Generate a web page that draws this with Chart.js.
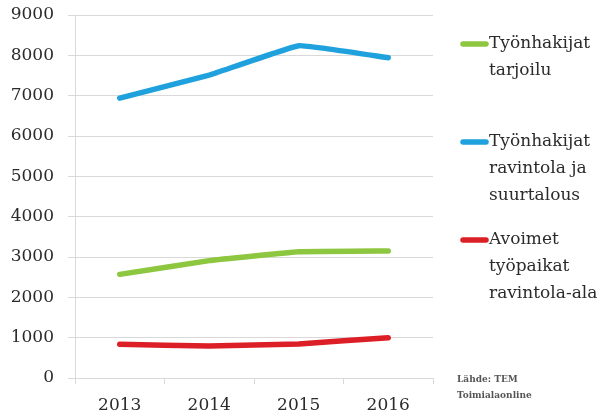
<!DOCTYPE html>
<html>
<head>
<meta charset="utf-8">
<script src="https://cdn.jsdelivr.net/npm/chart.js@4/dist/chart.umd.min.js"></script>
<style>
  html, body { margin: 0; padding: 0; background: #fff; }
  #wrap { width: 606px; height: 415px; position: relative; }
</style>
</head>
<body>
<div id="wrap"><canvas id="chart"></canvas></div>
<script>
// Years and series
const years = ['2013', '2014', '2015', '2016'];
const tarjoilu = [2570, 2910, 3130, 3150];
const ravintolaSuurtalous = [6940, 7510, 8240, 7940];
const avoimetPaikat = [835, 795, 845, 1000];

// Legend text, already wrapped the way it is shown
const tarjoiluLines = ['Työnhakijat', 'tarjoilu'];
const ravintolaLines = ['Työnhakijat', 'ravintola ja', 'suurtalous'];
const avoimetLines = ['Avoimet', 'työpaikat', 'ravintola-ala'];
const sourceLines = ['Lähde: TEM', 'Toimialaonline'];

const FONT = '"DejaVu Serif", "Liberation Serif", serif';
const TEXT = '#2b2b2b';
const GRID = '#d9d9d9';

const colors = {
    green: '#8dc63f',
    blue: '#1ea1dc',
    red: '#dc1f26'
};

function series(label, data, color, lines) {
    return {
        label: label,
        data: data,
        borderColor: color,
        backgroundColor: color,
        borderWidth: 5.5,
        borderCapStyle: 'round',
        borderJoinStyle: 'round',
        pointRadius: 0,
        tension: 0.08,
        legendLines: lines
    };
}

// Side legend with wrapped labels plus the source note
const sideLegend = {
    id: 'sideLegend',
    afterDraw(chart) {
        const ctx = chart.ctx;
        const x0 = 460, top = 44, slot = 98, lineH = 27;
        ctx.save();
        ctx.textBaseline = 'middle';
        ctx.textAlign = 'left';
        chart.data.datasets.forEach((ds, i) => {
            const y = top + i * slot;
            ctx.strokeStyle = ds.borderColor;
            ctx.lineWidth = 5.5;
            ctx.lineCap = 'round';
            ctx.beginPath();
            ctx.moveTo(x0 + 3, y);
            ctx.lineTo(x0 + 26, y);
            ctx.stroke();
            ctx.fillStyle = TEXT;
            ctx.font = '17px ' + FONT;
            ds.legendLines.forEach((t, j) => ctx.fillText(t, x0 + 29, y + j * lineH));
        });
        ctx.font = 'bold 9px ' + FONT;
        ctx.fillStyle = '#555';
        sourceLines.forEach((t, j) => ctx.fillText(t, 457, 380 + j * 16));
        ctx.restore();
    }
};

new Chart(document.getElementById('chart'), {
    type: 'line',
    data: {
        labels: years,
        datasets: [
            series(tarjoiluLines.join(' '), tarjoilu, colors.green, tarjoiluLines),
            series(ravintolaLines.join(' '), ravintolaSuurtalous, colors.blue, ravintolaLines),
            series(avoimetLines.join(' '), avoimetPaikat, colors.red, avoimetLines)
        ]
    },
    options: {
        responsive: true,
        maintainAspectRatio: false,
        animation: false,
        layout: { padding: { left: 0, right: 173, top: 0, bottom: 0 } },
        plugins: {
            legend: { display: false },
            tooltip: { enabled: false }
        },
        scales: {
            x: {
                offset: true,
                grid: {
                    offset: true,
                    drawOnChartArea: false,
                    color: GRID,
                    tickLength: 6
                },
                border: { color: GRID },
                afterFit: (scale) => { scale.height = 37; },
                ticks: {
                    color: TEXT,
                    font: { family: FONT, size: 17 },
                    padding: 11
                }
            },
            y: {
                min: 0,
                max: 9000,
                grid: { color: GRID, tickLength: 7 },
                border: { color: GRID },
                afterFit: (scale) => {
                    scale.width = 75;
                    scale.paddingTop = 15;
                    scale.paddingBottom = 0;
                },
                ticks: {
                    stepSize: 1000,
                    color: TEXT,
                    font: { family: FONT, size: 17 },
                    padding: 14,
                    callback: (v) => String(v)
                }
            }
        }
    },
    plugins: [sideLegend]
});
</script>
</body>
</html>
